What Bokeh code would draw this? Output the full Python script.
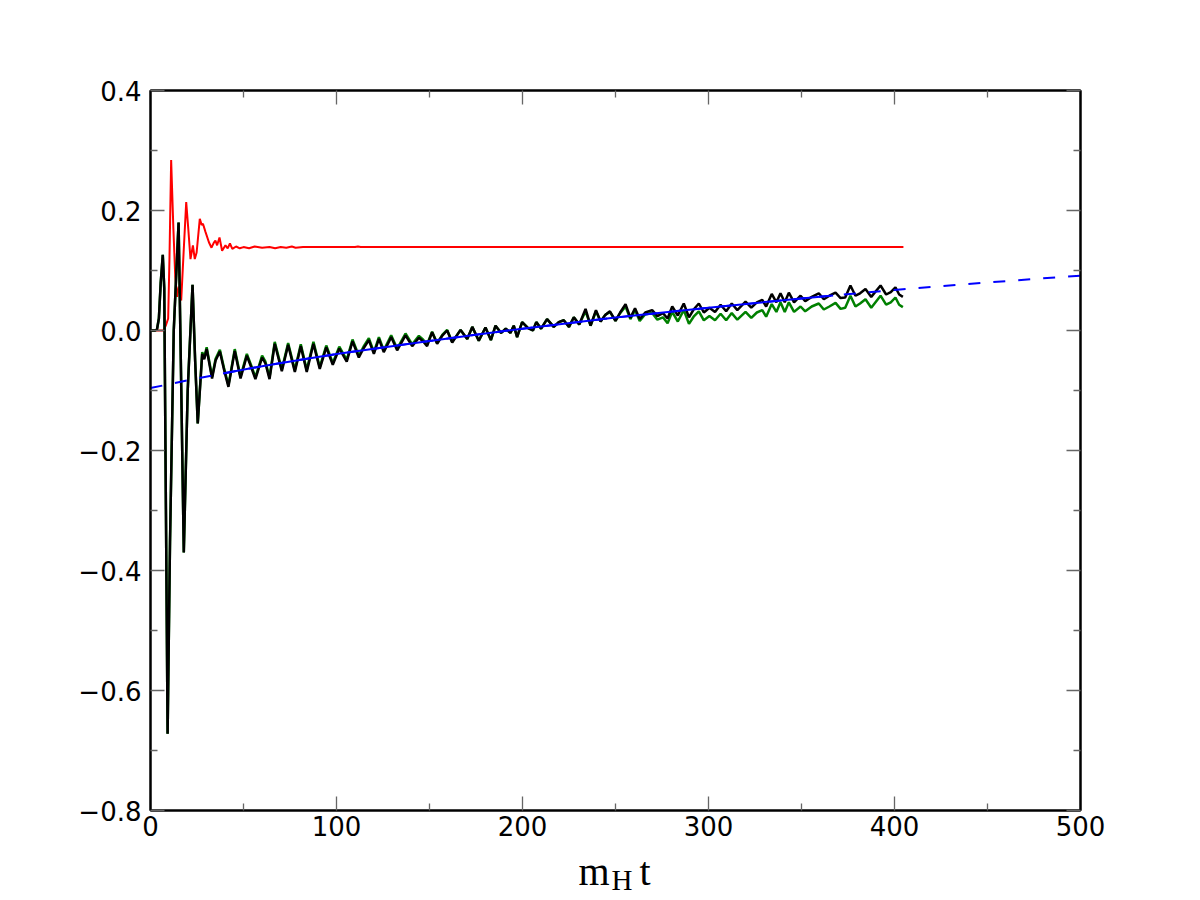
from bokeh.plotting import figure
from bokeh.layouts import column
from bokeh.models import Range1d, LinearAxis, FixedTicker, CustomJSTickFormatter
from bokeh.core.properties import value
from bokeh.embed import file_html
from bokeh.resources import INLINE

# ---------------- data ----------------
red_t = [0, 7.0, 8.2, 9.5, 10.2, 11.1, 12.3, 13.3, 14.3, 15.2,
         16.5, 17.8, 19.2, 20.3, 21.5, 22.8, 23.8, 24.8, 26.5, 27.5,
         28.2, 29.6, 31.4, 32.8, 34.0, 34.9, 35.8, 37.1, 38.5, 40.3,
         41.5, 42.7, 44.0, 46.0, 48.0, 50.0, 53.0, 56.0, 60.0, 64.0,
         67.0, 70.0, 73.0, 76.0, 78.0, 82.0, 110.0, 111.5, 113.0, 404.8]
red_v = [0.0, 0.0, 0.008, 0.02, 0.12, 0.284, 0.17, 0.09, 0.056, 0.073,
         0.050, 0.13, 0.214, 0.17, 0.119, 0.142, 0.119, 0.13, 0.186, 0.176,
         0.178, 0.164, 0.147, 0.138, 0.146, 0.150, 0.142, 0.155, 0.133, 0.142,
         0.137, 0.145, 0.136, 0.140, 0.137, 0.139, 0.137, 0.140, 0.138, 0.139,
         0.137, 0.139, 0.138, 0.140, 0.138, 0.139, 0.139, 0.140, 0.139, 0.139]

osc_t = [0, 2.5, 3.5, 4.5, 5.5, 6.6, 7.4, 9.2, 10.5, 12.5,
         15.1, 16.3, 17.9, 20.0, 22.6, 24.0, 25.4, 27.8, 28.9, 30.2,
         33.1, 35.0, 37.3, 39.5, 41.9, 45.3, 48.4, 51.8, 54.0, 56.4,
         60.0, 61.8, 64.0, 66.8, 70.6, 74.0, 77.6, 80.8, 84.0, 87.6,
         91.0, 94.5, 98.0, 101.5, 105.5, 108.6, 112.0, 114.5, 117.4, 120.1,
         122.8, 125.4, 129.4, 132.6, 137.1, 140.7, 144.3, 146.5, 148.7, 151.4,
         154.1, 157.0, 159.5, 162.2, 166.7, 170.3, 173.0, 176.5, 180.1, 183.0,
         185.5, 188.5, 191.0, 193.5, 195.3, 197.1, 199.8, 203.0, 205.6, 207.4,
         210.0, 213.2, 216.8, 219.5, 222.2, 225.0, 227.6, 230.5, 233.9, 236.6,
         239.5, 242.0, 244.5, 247.0, 250.0, 252.5, 255.4, 258.0, 260.5, 263.0,
         266.0, 269.7, 272.5, 275.5, 278.0, 280.5, 283.5, 286.7, 289.5, 292.0,
         294.8, 297.5, 300.5, 303.5, 306.5, 309.5, 312.5, 315.5, 319.9, 323.0,
         326.0, 328.9, 331.0, 334.0, 336.5, 338.7, 341.0, 343.2, 346.0, 349.5,
         352.0, 355.5, 359.3, 362.0, 365.0, 368.3, 371.0, 373.5, 376.3, 379.0,
         381.5, 384.4, 387.5, 392.5, 395.5, 398.0, 400.5, 402.5, 404.5]

black_v = [0.0, 0.0, 0.002, 0.02, 0.08, 0.126, 0.07, -0.672, -0.35, 0.0,
           0.18, -0.05, -0.37, -0.10, 0.076, -0.05, -0.155, -0.039, -0.048, -0.031,
           -0.080, -0.050, -0.035, -0.065, -0.094, -0.034, -0.080, -0.042, -0.060, -0.081,
           -0.045, -0.055, -0.081, -0.022, -0.068, -0.024, -0.069, -0.026, -0.069, -0.022,
           -0.064, -0.028, -0.057, -0.030, -0.052, -0.018, -0.045, -0.030, -0.016, -0.039,
           -0.014, -0.036, -0.011, -0.033, -0.008, -0.026, -0.012, -0.018, -0.026, -0.003,
           -0.022, -0.008, 0.000, -0.020, 0.001, -0.014, 0.006, -0.017, 0.005, -0.016,
           0.008, -0.004, 0.003, -0.004, 0.008, -0.011, 0.014, 0.004, 0.000, 0.014,
           0.003, 0.019, 0.006, 0.014, 0.017, 0.006, 0.022, 0.010, 0.036, 0.008,
           0.034, 0.015, 0.026, 0.032, 0.016, 0.030, 0.044, 0.021, 0.037, 0.019,
           0.030, 0.034, 0.024, 0.029, 0.020, 0.040, 0.025, 0.045, 0.022, 0.035,
           0.045, 0.030, 0.038, 0.031, 0.043, 0.032, 0.045, 0.034, 0.048, 0.038,
           0.047, 0.051, 0.040, 0.061, 0.047, 0.062, 0.047, 0.063, 0.047, 0.058,
           0.049, 0.056, 0.062, 0.052, 0.058, 0.063, 0.054, 0.055, 0.075, 0.058,
           0.062, 0.069, 0.056, 0.075, 0.060, 0.064, 0.072, 0.060, 0.056]

green_v = [0.0, 0.0, 0.002, 0.02, 0.08, 0.126, 0.07, -0.672, -0.35, 0.0,
           0.18, -0.05, -0.37, -0.10, 0.076, -0.05, -0.155, -0.036, -0.045, -0.028,
           -0.077, -0.047, -0.032, -0.062, -0.091, -0.031, -0.077, -0.039, -0.057, -0.078,
           -0.042, -0.052, -0.078, -0.019, -0.065, -0.021, -0.066, -0.023, -0.066, -0.019,
           -0.061, -0.025, -0.054, -0.027, -0.049, -0.015, -0.042, -0.027, -0.013, -0.036,
           -0.011, -0.033, -0.008, -0.030, -0.005, -0.023, -0.009, -0.015, -0.023, -0.002,
           -0.021, -0.007, 0.001, -0.019, 0.001, -0.014, 0.006, -0.017, 0.005, -0.016,
           0.008, -0.004, 0.003, -0.004, 0.008, -0.011, 0.014, 0.004, 0.000, 0.014,
           0.003, 0.019, 0.006, 0.014, 0.017, 0.006, 0.022, 0.010, 0.032, 0.008,
           0.032, 0.015, 0.026, 0.031, 0.016, 0.029, 0.040, 0.019, 0.034, 0.016,
           0.027, 0.029, 0.018, 0.022, 0.012, 0.031, 0.015, 0.034, 0.011, 0.023,
           0.032, 0.017, 0.024, 0.017, 0.028, 0.017, 0.029, 0.018, 0.031, 0.021,
           0.030, 0.034, 0.023, 0.044, 0.031, 0.047, 0.031, 0.047, 0.031, 0.040,
           0.032, 0.040, 0.045, 0.035, 0.040, 0.046, 0.036, 0.038, 0.058, 0.040,
           0.045, 0.052, 0.038, 0.058, 0.043, 0.047, 0.055, 0.043, 0.039]

fit_t = [0, 20, 39, 60, 80, 100, 125, 150, 175, 200, 250, 300, 350, 367, 400, 450, 500]
fit_v = [-0.096, -0.083, -0.0715, -0.0595, -0.049, -0.0393, -0.0282, -0.0175, -0.007,
         0.003, 0.0215, 0.038, 0.0535, 0.0583, 0.0675, 0.080, 0.0915]
fit_range = (39, 367)   # t-range over which the fit was done (solid part)

x_ticks = [0, 100, 200, 300, 400, 500]
x_minor = [50, 150, 250, 350, 450]
y_ticks = [-0.8, -0.6, -0.4, -0.2, 0.0, 0.2, 0.4]
y_minor = [-0.7, -0.5, -0.3, -0.1, 0.1, 0.3]

# ---------------- main figure ----------------
p = figure(width=1200, height=846,
           x_range=Range1d(0, 500), y_range=Range1d(-0.8, 0.4),
           output_backend="svg", toolbar_location=None,
           min_border_left=150, min_border_right=120,
           min_border_top=90, min_border_bottom=36)
p.title.visible = False
p.grid.visible = False
p.background_fill_color = "white"
p.border_fill_color = "white"
p.outline_line_color = "black"
p.outline_line_width = 2

blank = CustomJSTickFormatter(code="return '';")
yfmt = CustomJSTickFormatter(code="return tick.toFixed(1).replace('-', '\\u2212');")

def style(ax, standoff):
    ax.axis_line_color = "black"
    ax.axis_line_width = 2
    ax.major_tick_in = 14
    ax.major_tick_out = 0
    ax.minor_tick_in = 7
    ax.minor_tick_out = 0
    ax.major_tick_line_color = "#666666"
    ax.minor_tick_line_color = "#666666"
    ax.major_tick_line_width = 1.3
    ax.minor_tick_line_width = 1.3
    ax.major_label_text_font = "DejaVu Sans"
    ax.major_label_text_font_size = "26px"
    ax.major_label_text_color = "black"
    ax.major_label_standoff = standoff

xa = p.xaxis[0]
xa.ticker = FixedTicker(ticks=x_ticks, minor_ticks=x_minor)
style(xa, 5)
ya = p.yaxis[0]
ya.ticker = FixedTicker(ticks=y_ticks, minor_ticks=y_minor)
ya.formatter = yfmt
style(ya, 9)

top = LinearAxis(ticker=FixedTicker(ticks=x_ticks, minor_ticks=x_minor), formatter=blank)
style(top, 0)
p.add_layout(top, "above")
right = LinearAxis(ticker=FixedTicker(ticks=y_ticks, minor_ticks=y_minor), formatter=blank)
style(right, 0)
p.add_layout(right, "right")

# ---------------- curves ----------------
p.line(red_t, red_v, line_color="#ff0000", line_width=2)
p.line(osc_t, green_v, line_color="#008000", line_width=2.5)
p.line(osc_t, black_v, line_color="black", line_width=2.5)

p.line(fit_t, fit_v, line_color="#0000ff", line_width=2, line_dash="12 13")
solid_t = [t for t in fit_t if fit_range[0] <= t <= fit_range[1]]
solid_v = [v for t, v in zip(fit_t, fit_v) if fit_range[0] <= t <= fit_range[1]]
p.line(solid_t, solid_v, line_color="#0000ff", line_width=2)

# ---------------- x axis label strip:  m_H t ----------------
# strip coordinates: x in page pixels across the frame (150..1080),
# y measured upward from the page bottom (0..54)
lab = figure(width=1200, height=54, x_range=Range1d(150, 1080), y_range=Range1d(0, 54),
             output_backend="svg", toolbar_location=None,
             x_axis_location=None, y_axis_location=None,
             min_border_left=150, min_border_right=120,
             min_border_top=0, min_border_bottom=0)
lab.title.visible = False
lab.grid.visible = False
lab.outline_line_color = None
lab.background_fill_color = "white"
lab.border_fill_color = "white"
serif = value("Liberation Serif")
lab.text(x=[578], y=[29], text=["m"], text_font=serif, text_font_size="40px",
         text_color="black", text_baseline="alphabetic", text_align="left")
lab.text(x=[611], y=[21], text=["H"], text_font=serif, text_font_size="29px",
         text_color="black", text_baseline="alphabetic", text_align="left")
lab.text(x=[639], y=[29], text=["t"], text_font=serif, text_font_size="40px",
         text_color="black", text_baseline="alphabetic", text_align="left")

layout = column(p, lab, spacing=0)
open("out.html", "w").write(file_html(layout, INLINE))
